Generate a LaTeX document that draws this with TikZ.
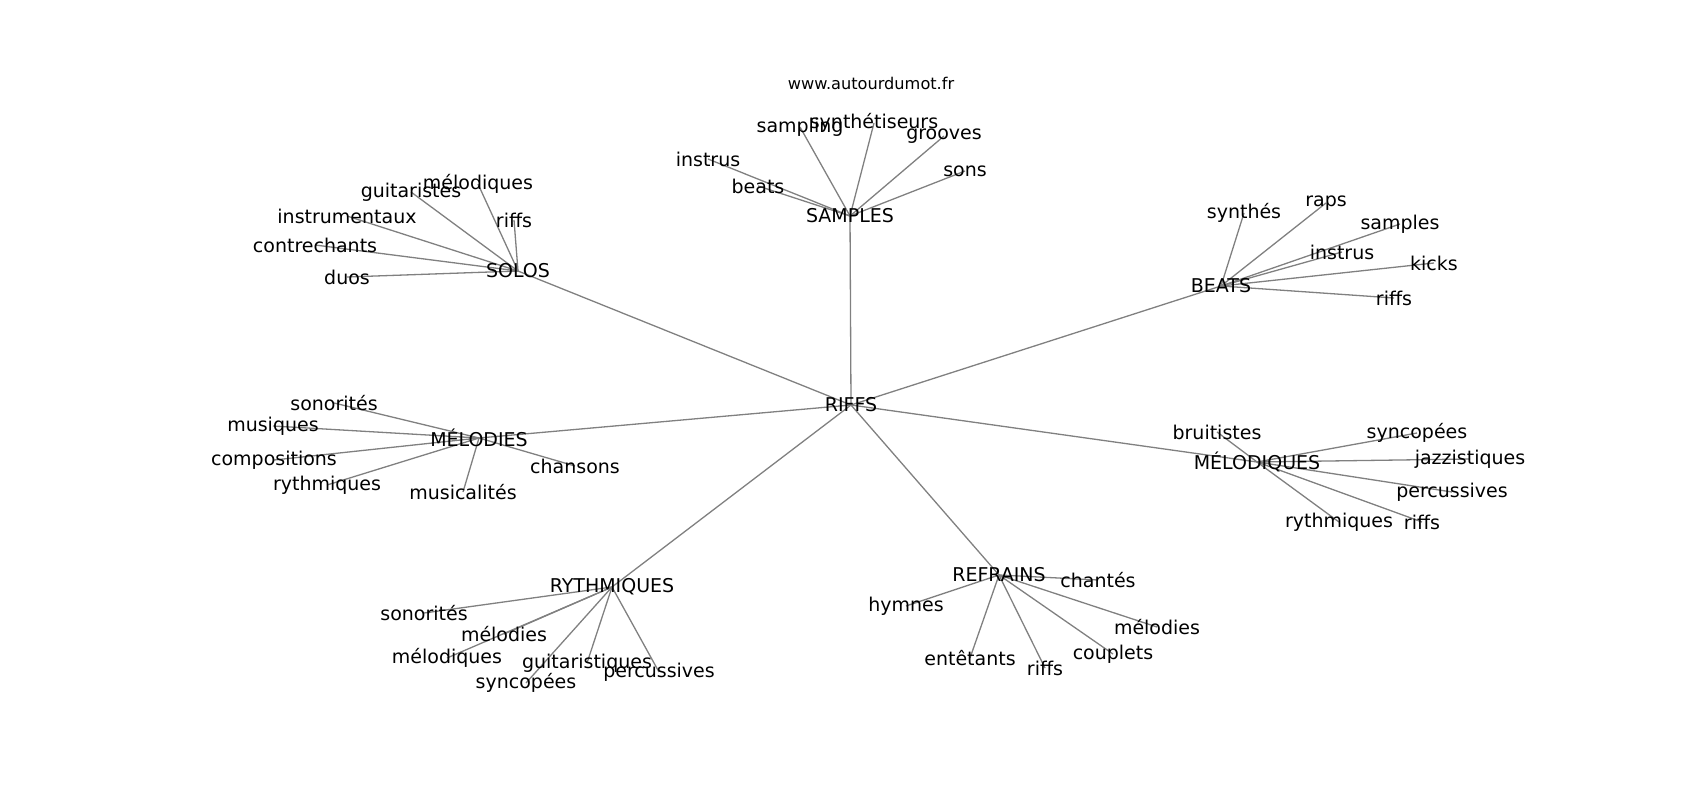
\documentclass[tikz,border=0pt]{standalone}
\usepackage{fontspec}
\setmainfont{DejaVu Sans}
\usepackage{tikz}
\usetikzlibrary{backgrounds}

\begin{document}
\begin{tikzpicture}[x=0.01cm, y=-0.01cm,
		word/.style={inner sep=0pt, font=\fontsize{5.4}{6}\selectfont},
		site/.style={inner sep=0pt, font=\fontsize{4.6}{5}\selectfont},
		link/.style={draw=black!50, line width=0.37pt}]
		\useasboundingbox (0,0) rectangle (1700,800);
		\node[site] (url) at (871,83) {www.autourdumot.fr};
		% centre et branches
		\node[word] (riffs) at (851,405) {RIFFS};
		\node[word] (solos) at (518,271) {SOLOS};
		\node[word] (samples) at (850,216) {SAMPLES};
		\node[word] (beats) at (1221,286) {BEATS};
		\node[word] (melodies) at (479,438) {MÉLODIES};
		\node[word] (melodiques) at (1257,462) {MÉLODIQUES};
		\node[word] (rythmiques) at (612,587) {RYTHMIQUES};
		\node[word] (refrains) at (999,575) {REFRAINS};
		% SOLOS
		\node[word] (so1) at (478,184) {mélodiques};
		\node[word] (so2) at (411,192) {guitaristes};
		\node[word] (so3) at (514,220) {riffs};
		\node[word] (so4) at (347,216) {instrumentaux};
		\node[word] (so5) at (315,245) {contrechants};
		\node[word] (so6) at (347,277) {duos};
		% SAMPLES
		\node[word] (sa1) at (800,127) {sampling};
		\node[word] (sa2) at (874,123) {synthétiseurs};
		\node[word] (sa3) at (944,136) {grooves};
		\node[word] (sa4) at (708,159) {instrus};
		\node[word] (sa5) at (965,171) {sons};
		\node[word] (sa6) at (758,186) {beats};
		% BEATS
		\node[word] (be1) at (1244,213) {synthés};
		\node[word] (be2) at (1326,203) {raps};
		\node[word] (be3) at (1400,224) {samples};
		\node[word] (be4) at (1342,252) {instrus};
		\node[word] (be5) at (1434,263) {kicks};
		\node[word] (be6) at (1394,298) {riffs};
		% MÉLODIES
		\node[word] (me1) at (334,403) {sonorités};
		\node[word] (me2) at (273,426) {musiques};
		\node[word] (me3) at (274,460) {compositions};
		\node[word] (me4) at (575,466) {chansons};
		\node[word] (me5) at (327,485) {rythmiques};
		\node[word] (me6) at (463,492) {musicalités};
		% MÉLODIQUES
		\node[word] (mq1) at (1217,432) {bruitistes};
		\node[word] (mq2) at (1417,433) {syncopées};
		\node[word] (mq3) at (1470,459) {jazzistiques};
		\node[word] (mq4) at (1452,492) {percussives};
		\node[word] (mq5) at (1339,522) {rythmiques};
		\node[word] (mq6) at (1422,522) {riffs};
		% RYTHMIQUES
		\node[word] (ry1) at (424,613) {sonorités};
		\node[word] (ry2) at (504,634) {mélodies};
		\node[word] (ry3) at (447,658) {mélodiques};
		\node[word] (ry4) at (587,663) {guitaristiques};
		\node[word] (ry5) at (659,672) {percussives};
		\node[word] (ry6) at (526,683) {syncopées};
		% REFRAINS
		\node[word] (re1) at (1098,580) {chantés};
		\node[word] (re2) at (906,606) {hymnes};
		\node[word] (re3) at (1157,627) {mélodies};
		\node[word] (re4) at (970,658) {entêtants};
		\node[word] (re5) at (1113,654) {couplets};
		\node[word] (re6) at (1045,668) {riffs};
		
		\begin{scope}[on background layer]
		\foreach \b in {solos,samples,beats,melodies,melodiques,rythmiques,refrains}
			\path (riffs.center) edge[link] (\b.center);
		\foreach \i in {1,...,6} {
			\path (solos.center) edge[link] (so\i.center);
			\path (samples.center) edge[link] (sa\i.center);
			\path (beats.center) edge[link] (be\i.center);
			\path (melodies.center) edge[link] (me\i.center);
			\path (melodiques.center) edge[link] (mq\i.center);
			\path (rythmiques.center) edge[link] (ry\i.center);
			\path (refrains.center) edge[link] (re\i.center);
		}
		\end{scope}
		
	\end{tikzpicture}
\end{document}
